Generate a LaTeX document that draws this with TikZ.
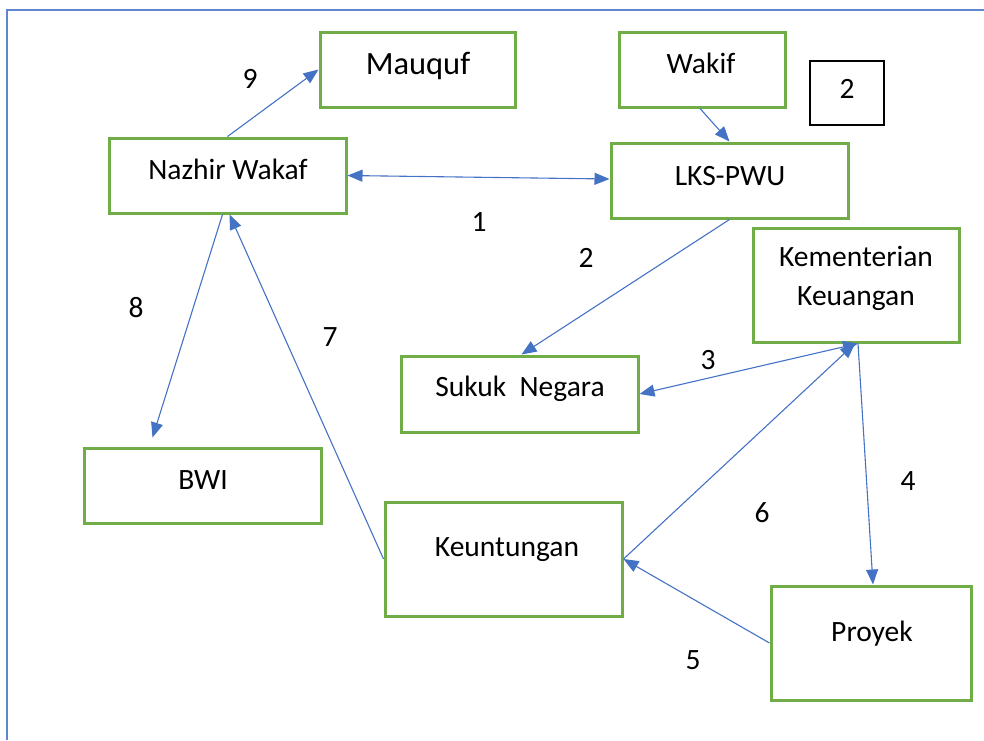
\documentclass[tikz,border=0pt]{standalone}
\usepackage{fontspec}
\setmainfont{Carlito}
\usetikzlibrary{arrows.meta}
\definecolor{obl}{HTML}{4472C4}
\definecolor{ogr}{HTML}{70AD47}
\tikzset{
  box/.style={draw=ogr, line width=3pt, rectangle, inner sep=0pt},
  blkbox/.style={draw=black, line width=1.3pt, rectangle, inner sep=0pt},
  txt/.style={font=\fontsize{29.5}{35}\selectfont, inner sep=0pt, anchor=center, align=center},
  num/.style={font=\fontsize{29.5}{35}\selectfont, inner sep=0pt},
  conn/.style={draw=obl, line width=1.1pt, -{Triangle[length=15pt,width=12pt]}},
  conn2/.style={draw=obl, line width=1.1pt, {Triangle[length=15pt,width=12pt]}-{Triangle[length=15pt,width=12pt]}}
}
\begin{document}
\begin{tikzpicture}[x=1pt,y=-1pt]
\useasboundingbox (0,0) rectangle (984,740);
% outer frame
\coordinate (fl) at (7,740);
\coordinate (tl) at (7,10);
\coordinate (tr) at (984,10);
\draw[obl!85, line width=1.8pt] (fl) -- (tl) -- (tr);

% boxes
\node[box, minimum width=195pt, minimum height=75pt] (mau) at (417.5,69.5) {};
\node[box, minimum width=166pt, minimum height=75pt] (wak) at (702,69.5) {};
\node[blkbox, minimum width=74pt, minimum height=64pt] (two) at (847,93) {};
\node[box, minimum width=237pt, minimum height=75pt] (naz) at (227.5,175.5) {};
\node[box, minimum width=237pt, minimum height=75pt] (lks) at (729.5,180.5) {};
\node[box, minimum width=206pt, minimum height=114pt] (kem) at (856,285) {};
\node[box, minimum width=237pt, minimum height=76pt] (suk) at (519.5,394) {};
\node[box, minimum width=237pt, minimum height=75pt] (bwi) at (202.5,485.5) {};
\node[box, minimum width=237pt, minimum height=114pt] (keu) at (503.5,559) {};
\node[box, minimum width=200pt, minimum height=114pt] (pro) at (871,643) {};

% texts
\node[txt, font=\fontsize{32.5}{38}\selectfont] at (418,66) {Mauquf};
\node[txt] at (701,63) {Wakif};
\node[txt] at (847,89) {2};
\node[txt] at (228,169) {Nazhir Wakaf};
\node[txt] at (730,176) {LKS-PWU};
\node[txt, font=\fontsize{29.5}{39}\selectfont] at (856,278) {Kementerian\\Keuangan};
\node[txt] at (520,389) {Sukuk\ \ Negara};
\node[txt] at (203,480) {BWI};
\node[txt] at (507,550) {Keuntungan};
\node[txt] at (872,634) {Proyek};

% numbers
\node[num] (n9) at (250,79) {9};
\node[num] (n1) at (479,222) {1};
\node[num] (n2) at (586,258) {2};
\node[num] (n8) at (136,308) {8};
\node[num] (n7) at (330,337) {7};
\node[num] (n3) at (708,360) {3};
\node[num] (n4) at (908,481) {4};
\node[num] (n6) at (762,513) {6};
\node[num] (n5) at (693,660) {5};

% connectors
\draw[conn] (naz.north) -- (mau.west);
\draw[conn2] (naz.east) -- ([yshift=1.5pt]lks.west);
\draw[conn] ([xshift=-2pt]wak.south) -- (lks.north);
\draw[conn] (lks.south) -- ([xshift=2pt]suk.north);
\draw[conn2] ([xshift=2pt]kem.south) -- (suk.east);
\draw[conn] ([xshift=2pt]kem.south) -- ([xshift=2pt]pro.north);
\draw[conn] (keu.east) -- ([xshift=-1pt]kem.south);
\draw[conn] (pro.west) -- (keu.east);
\draw[conn] (keu.west) -- ([xshift=2pt]naz.south);
\draw[conn] ([xshift=-5pt]naz.south) -- ([xshift=70pt,yshift=9pt]bwi.north west);
\end{tikzpicture}
\end{document}
